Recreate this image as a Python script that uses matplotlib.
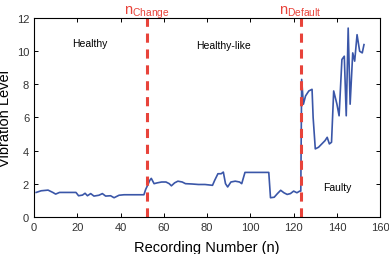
import numpy as np
import matplotlib.pyplot as plt

plt.rcParams['font.family'] = ['Liberation Sans', 'DejaVu Sans']
plt.rcParams['mathtext.fontset'] = 'custom'
plt.rcParams['mathtext.rm'] = 'Liberation Sans'

# recording number / vibration level
rec = [1, 3.3, 6.5, 8.7, 10, 11.8, 19.4, 20.6, 22.4, 23.6, 24.7, 26.2, 27.7, 30, 31.6,
       33.1, 35.4, 37, 39.3, 41.6, 50.8, 51.6, 52.5, 53.5, 54.2, 55.5, 57, 59, 61, 62.5,
       63.5, 65, 66.5, 68.5, 70, 73, 76, 79, 82.5, 83.5, 85, 86.5, 87.5, 88.5, 89.5, 91,
       93, 95, 96, 97.5, 108.5, 109.3, 111, 112.5, 114, 115.5, 117, 118.5, 120, 121.5,
       122.8, 123.3, 123.7, 124.5, 125.5, 127, 128.5, 129, 130, 131.5, 133, 134.5, 135.5,
       136.5, 137.5, 138.5, 140, 141, 142.3, 143.4, 144.3, 145.2, 146.1, 147.3, 148.2,
       149.3, 150.5, 151.7, 152.5]
vib = [1.47, 1.57, 1.61, 1.47, 1.37, 1.47, 1.47, 1.27, 1.31, 1.42, 1.27, 1.4, 1.25, 1.3,
       1.4, 1.25, 1.27, 1.15, 1.3, 1.33, 1.33, 1.65, 1.9, 2.2, 2.32, 2.0, 2.05, 2.1, 2.1,
       2.0, 1.87, 2.05, 2.15, 2.1, 2.0, 1.98, 1.95, 1.95, 1.9, 2.2, 2.6, 2.6, 2.7, 2.0,
       1.8, 2.1, 2.15, 2.1, 2.0, 2.68, 2.68, 1.15, 1.18, 1.4, 1.6, 1.45, 1.35, 1.4, 1.55,
       1.45, 1.55, 1.55, 8.3, 6.8, 7.3, 7.6, 7.7, 6.0, 4.1, 4.2, 4.4, 4.6, 4.8, 4.4, 4.5,
       7.6, 6.8, 6.1, 9.5, 9.7, 6.1, 11.4, 6.8, 9.9, 9.4, 11.0, 10.0, 9.9, 10.4]

n_change = 52
n_default = 123.3

fig = plt.figure(figsize=(3.89, 2.55), dpi=100)
ax = fig.add_axes([0.0874, 0.146, 0.89, 0.779])

ax.plot(rec, vib, color='#3a56a8', lw=1.2)
for xv in [n_change, n_default]:
    ax.axvline(xv, color='#e8433a', lw=2.2, ls=(0, (3, 2.2)))

ax.set_xlim(0, 160)
ax.set_ylim(0, 12)
ax.set_xticks(np.arange(0, 161, 20))
ax.set_yticks(np.arange(0, 13, 2))
ax.tick_params(direction='in', top=True, right=True, length=3, labelsize=8,
               labelcolor='#333333', width=0.7)
for s in ax.spines.values():
    s.set_linewidth(0.8)

ax.set_xlabel('Recording Number (n)', fontsize=10.5, labelpad=6)
ax.set_ylabel('Vibration Level', fontsize=10.5, labelpad=3)

ax.text(26, 10.5, 'Healthy', fontsize=7.5, ha='center', va='center')
ax.text(87.5, 10.4, 'Healthy-like', fontsize=7.5, ha='center', va='center')
ax.text(140, 1.8, 'Faulty', fontsize=7.5, ha='center', va='center')

ax.text(n_change, 12.88, r'$\mathregular{n_{Change}}$', color='#e8433a', fontsize=10.5,
        ha='center', va='top')
ax.text(n_default, 12.88, r'$\mathregular{n_{Default}}$', color='#e8433a', fontsize=10.5,
        ha='center', va='top')

fig.savefig('out.png', dpi=100)
